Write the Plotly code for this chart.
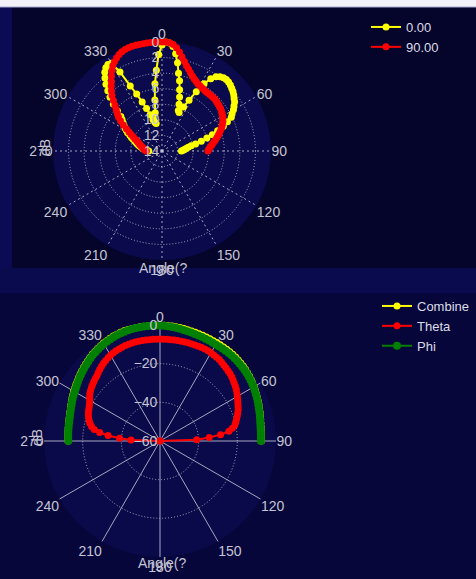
import plotly.graph_objects as go

# Sampling grid of the measured cuts (degrees)
ANGLES = list(range(-90, 91, 2))

# --- upper plot: two phi cuts, attenuation below peak (dB) ---
CUT_000 = [
    12.3, 12.1, 11.9, 11.7, 11.5, 11.3, 11.1, 10.9, 10.7, 10.5,
    10.3, 10.0, 9.7, 9.4, 9.0, 8.7, 8.4, 8.1, 7.8, 7.5,
    7.1, 6.3, 5.3, 4.4, 3.6, 2.8, 2.1, 1.5, 1.1, 0.9,
    1.0, 2.5, 4.7, 6.0, 7.2, 8.2, 9.1, 9.8, 10.2, 10.4,
    9.0, 7.4, 5.3, 3.6, 1.6, 0.4, 0.0, 0.1, 0.5, 1.4,
    2.5, 3.8, 4.7, 5.8, 6.7, 7.6, 8.4, 8.6, 7.7, 6.6,
    5.2, 3.8, 2.8, 2.2, 1.9, 1.7, 1.65, 1.7, 1.8, 1.95,
    2.1, 2.3, 2.55, 2.75, 3.1, 3.4, 3.8, 4.1, 4.8, 5.5,
    6.4, 7.2, 8.0, 8.8, 9.6, 10.2, 10.6, 10.9, 11.1, 11.3,
    11.5,
]
CUT_090 = [
    12.0, 11.9, 11.8, 11.7, 11.6, 11.5, 11.35, 11.2, 11.05, 10.9,
    10.7, 10.5, 10.2, 9.9, 9.5, 9.1, 8.6, 8.0, 7.4, 6.9,
    6.5, 6.1, 5.6, 5.0, 4.4, 3.9, 3.4, 2.95, 2.4, 1.85,
    1.35, 1.0, 0.7, 0.45, 0.25, 0.12, 0.05, 0.02, 0.0, 0.0,
    0.0, 0.0, 0.0, 0.0, 0.0, 0.0, 0.0, 0.05, 0.25, 0.6,
    1.1, 1.65, 2.15, 2.6, 2.95, 3.3, 3.6, 3.85, 4.05, 4.2,
    4.3, 4.4, 4.45, 4.5, 4.5, 4.5, 4.5, 4.5, 4.5, 4.55,
    4.6, 4.65, 4.7, 4.8, 4.9, 5.0, 5.15, 5.3, 5.5, 5.7,
    5.95, 6.2, 6.45, 6.7, 6.95, 7.2, 7.45, 7.65, 7.85, 8.0,
    8.1,
]

# --- lower plot: polarisation components (dB) ---
COMBINE = [
    -12.4, -12.3, -12.2, -12.1, -12.0, -11.9, -11.75, -11.55, -11.3, -11.0,
    -10.7, -10.25, -9.8, -9.4, -8.95, -8.5, -8.1, -7.6, -7.1, -6.6,
    -6.1, -5.6, -5.1, -4.6, -4.1, -3.6, -3.1, -2.7, -2.3, -1.9,
    -1.5, -1.2, -0.9, -0.6, -0.4, -0.2, -0.05, 0.0, 0.0, 0.0,
    0.0, 0.0, 0.0, 0.0, 0.0, -0.05, -0.1, -0.15, -0.25, -0.35,
    -0.45, -0.55, -0.7, -0.8, -0.9, -1.0, -1.05, -1.1, -1.15, -1.2,
    -1.2, -1.25, -1.3, -1.35, -1.4, -1.5, -1.6, -1.75, -1.9, -2.1,
    -2.35, -2.6, -2.85, -3.15, -3.45, -3.75, -4.1, -4.45, -4.8, -5.15,
    -5.5, -5.85, -6.15, -6.45, -6.75, -7.0, -7.2, -7.35, -7.45, -7.5,
    -7.55,
]
THETA = [
    -60.0, -45.0, -39.0, -33.0, -28.5, -25.5, -23.8, -22.7, -21.9, -21.2,
    -20.6, -20.1, -19.7, -19.3, -18.7, -18.0, -17.1, -16.2, -15.6, -15.0,
    -14.5, -14.0, -13.5, -13.0, -12.3, -11.6, -10.9, -10.3, -9.8, -9.3,
    -8.8, -8.4, -8.1, -7.9, -7.7, -7.5, -7.4, -7.3, -7.2, -7.2,
    -7.2, -7.25, -7.3, -7.3, -7.3, -7.3, -7.3, -7.3, -7.3, -7.3,
    -7.25, -7.2, -7.2, -7.2, -7.2, -7.15, -7.1, -7.1, -7.1, -7.15,
    -7.3, -7.5, -7.7, -7.9, -8.3, -8.7, -9.1, -9.4, -9.7, -10.2,
    -10.7, -11.3, -11.8, -12.4, -13.1, -13.8, -14.5, -15.2, -15.8, -16.4,
    -17.2, -18.0, -18.8, -19.6, -20.4, -22.0, -24.0, -28.5, -34.5, -41.0,
    -60.0,
]
PHI = [
    -12.6, -12.5, -12.4, -12.3, -12.2, -12.1, -12.0, -11.8, -11.6, -11.3,
    -11.0, -10.6, -10.2, -9.8, -9.4, -9.0, -8.6, -8.1, -7.6, -7.1,
    -6.6, -6.1, -5.6, -5.1, -4.6, -4.1, -3.6, -3.2, -2.8, -2.4,
    -2.0, -1.7, -1.4, -1.1, -0.9, -0.7, -0.55, -0.4, -0.3, -0.25,
    -0.2, -0.2, -0.2, -0.2, -0.25, -0.3, -0.4, -0.5, -0.7, -0.9,
    -1.1, -1.3, -1.5, -1.65, -1.8, -1.95, -2.05, -2.15, -2.2, -2.25,
    -2.3, -2.3, -2.3, -2.3, -2.3, -2.35, -2.4, -2.5, -2.6, -2.75,
    -2.9, -3.1, -3.3, -3.55, -3.8, -4.1, -4.45, -4.8, -5.15, -5.5,
    -5.85, -6.2, -6.5, -6.8, -7.05, -7.3, -7.5, -7.6, -7.7, -7.75,
    -7.8,
]

ANGLE_TICKS = list(range(0, 360, 30))
ANGLE_LABELS = [str(a) for a in ANGLE_TICKS]

W, H = 476, 579
LABEL = dict(family="Liberation Sans, Arial, sans-serif", size=14, color="#c4c4d4")
LEGEND_FONT = dict(family="Liberation Sans, Arial, sans-serif", size=13, color="#dcdce6")
GRID = "rgba(205,205,220,0.80)"

fig = go.Figure()

fig.add_trace(go.Scatterpolar(
    r=CUT_000, theta=ANGLES, name="0.00", subplot="polar",
    mode="lines+markers", line=dict(color="#ffff00", width=2),
    marker=dict(color="#ffff00", size=7), legend="legend"))
fig.add_trace(go.Scatterpolar(
    r=CUT_090, theta=ANGLES, name="90.00", subplot="polar",
    mode="lines+markers", line=dict(color="#ff0000", width=2),
    marker=dict(color="#ff0000", size=7), legend="legend"))

fig.add_trace(go.Scatterpolar(
    r=COMBINE, theta=ANGLES, name="Combine", subplot="polar2",
    mode="lines+markers", line=dict(color="#ffff00", width=2),
    marker=dict(color="#ffff00", size=7), legend="legend2"))
fig.add_trace(go.Scatterpolar(
    r=THETA, theta=ANGLES, name="Theta", subplot="polar2",
    mode="lines+markers", line=dict(color="#ff0000", width=2),
    marker=dict(color="#ff0000", size=7), legend="legend2"))
fig.add_trace(go.Scatterpolar(
    r=PHI, theta=ANGLES, name="Phi", subplot="polar2",
    mode="lines+markers", line=dict(color="#008000", width=2),
    marker=dict(color="#008000", size=8), legend="legend2"))


def angular(spoke_dash):
    return dict(rotation=90, direction="clockwise", tickmode="array",
                tickvals=ANGLE_TICKS, ticktext=ANGLE_LABELS, tickfont=LABEL,
                showline=False, ticks="", gridcolor=GRID, gridwidth=1,
                griddash=spoke_dash)


def radial(rng, step):
    return dict(range=rng, dtick=step, angle=90, side="counterclockwise",
                tickangle=90, tickfont=LABEL, showline=False, ticks="",
                gridcolor=GRID, gridwidth=1, griddash="1px,2px")


def px_domain(cx, cy, rad):
    return dict(x=[(cx - rad) / W, (cx + rad) / W],
                y=[1 - (cy + rad) / H, 1 - (cy - rad) / H])


def note(text, x, y, angle=0):
    return dict(text=text, x=x / W, y=1 - y / H, xref="paper", yref="paper",
                xanchor="center", yanchor="middle", showarrow=False,
                textangle=angle, font=LABEL)


fig.update_layout(
    width=W, height=H, margin=dict(l=0, r=0, t=0, b=0),
    paper_bgcolor="#05052b", showlegend=True,
    # upper plot: attenuation grows towards the centre
    polar=dict(domain=px_domain(162, 151, 109), bgcolor="#0a0a4c",
               angularaxis=angular("2px,3px"), radialaxis=radial([14, 0], 2)),
    polar2=dict(domain=px_domain(160, 441, 116), bgcolor="#0a0a4a",
                angularaxis=angular("solid"), radialaxis=radial([-60, 0], 20)),
    legend=dict(x=366 / W, y=1 - 12 / H, xanchor="left", yanchor="top",
                bgcolor="rgba(0,0,0,0)", font=LEGEND_FONT, tracegroupgap=0),
    legend2=dict(x=377 / W, y=1 - 291 / H, xanchor="left", yanchor="top",
                 bgcolor="rgba(0,0,0,0)", font=LEGEND_FONT, tracegroupgap=0),
    shapes=[
        # window strip, side strip and band between the two panels
        dict(type="rect", xref="paper", yref="paper", x0=0, x1=1,
             y0=1 - 7 / H, y1=1, fillcolor="#f2f2f8", line_width=0, layer="below"),
        dict(type="line", xref="paper", yref="paper", x0=0, x1=1,
             y0=1 - 7 / H, y1=1 - 7 / H, line=dict(color="#a8a8d0", width=1)),
        dict(type="rect", xref="paper", yref="paper", x0=0, x1=12 / W,
             y0=1 - 268 / H, y1=1 - 7 / H, fillcolor="#0b0b55", line_width=0,
             layer="below"),
        dict(type="rect", xref="paper", yref="paper", x0=0, x1=1,
             y0=1 - 293 / H, y1=1 - 268 / H, fillcolor="#0a0a4e", line_width=0,
             layer="below"),
        dict(type="rect", xref="paper", yref="paper", x0=0, x1=1,
             y0=0, y1=1 - 293 / H, fillcolor="#06063a", line_width=0,
             layer="below"),
    ],
    annotations=[
        note("dB", 45, 148, -90),
        note("Angle(?", 163, 268),
        note("dB", 37, 438, -90),
        note("Angle(?", 162, 563),
    ],
)

fig.write_html("out.html")
